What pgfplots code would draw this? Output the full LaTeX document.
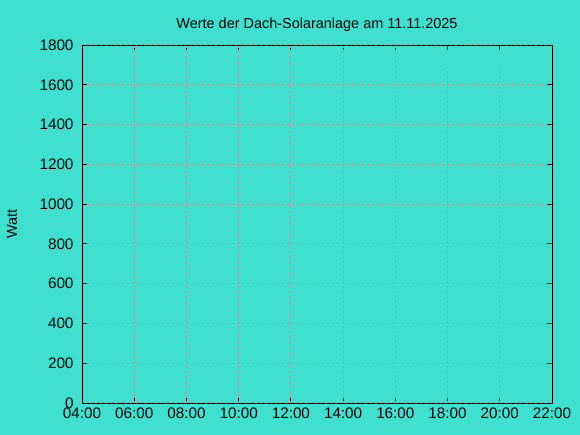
\documentclass[border=0pt]{standalone}
\usepackage{pgfplots}
\pgfplotsset{compat=1.18}
\usepackage{fontspec}
\setmainfont{Liberation Sans}
\definecolor{bg}{RGB}{64,224,208}
\definecolor{gridc}{RGB}{190,145,155}
\begin{document}
\begin{tikzpicture}
\useasboundingbox (0,0) rectangle (580bp,435bp);
\fill[bg] (0,0) rectangle (580bp,435bp);
\begin{axis}[
  at={(82bp,32bp)}, anchor=south west,
  scale only axis, width=470bp, height=358bp,
  xmin=4, xmax=22, ymin=0, ymax=1800,
  xtick={4,6,...,22},
  xticklabels={04:00,06:00,08:00,10:00,12:00,14:00,16:00,18:00,20:00,22:00},
  ytick={0,200,...,1800},
  ymajorgrids,
  major grid style={gridc, dash pattern=on 2bp off 3bp, line width=1.1bp},
  tick align=inside, major tick length=5bp,
  tick style={black, line width=0.8bp},
  axis line style={black, line width=0.9bp},
  /pgf/number format/assume math mode=true,
  /pgf/number format/1000 sep={},
  xticklabel style={font=\fontsize{15.3}{17}\selectfont, yshift=-1bp},
  yticklabel style={font=\fontsize{15.3}{17}\selectfont, xshift=-5bp},
  title={Werte der Dach-Solaranlage am 11.11.2025},
  title style={font=\fontsize{14.5}{16}\selectfont, yshift=4bp},
  ylabel={Watt},
  ylabel style={font=\fontsize{14.5}{16}\selectfont, at={(rel axis cs:-0.149,0.5)}, anchor=center},
]
\addplot[draw=none] coordinates {(4,0) (22,0)};
\draw[gridc, dash pattern=on 2bp off 3bp, line width=1.2bp] (axis cs:6,0) -- (axis cs:6,1800);
\draw[gridc, dash pattern=on 2bp off 3bp, line width=1.2bp] (axis cs:8,0) -- (axis cs:8,1800);
\draw[gridc, dash pattern=on 2bp off 3bp, line width=1.2bp] (axis cs:10,0) -- (axis cs:10,1800);
\draw[gridc, dash pattern=on 2bp off 3bp, line width=1.2bp] (axis cs:12,0) -- (axis cs:12,1800);
\draw[gridc, dash pattern=on 2bp off 3bp, line width=1.2bp] (axis cs:14,0) -- (axis cs:14,1800);
\draw[gridc, dash pattern=on 2bp off 3bp, line width=1.2bp] (axis cs:16,0) -- (axis cs:16,1800);
\draw[gridc, dash pattern=on 2bp off 3bp, line width=1.2bp] (axis cs:18,0) -- (axis cs:18,1690);
\draw[gridc, dash pattern=on 2bp off 3bp, line width=1.2bp] (axis cs:20,0) -- (axis cs:20,1690);
\end{axis}
\end{tikzpicture}
\end{document}
